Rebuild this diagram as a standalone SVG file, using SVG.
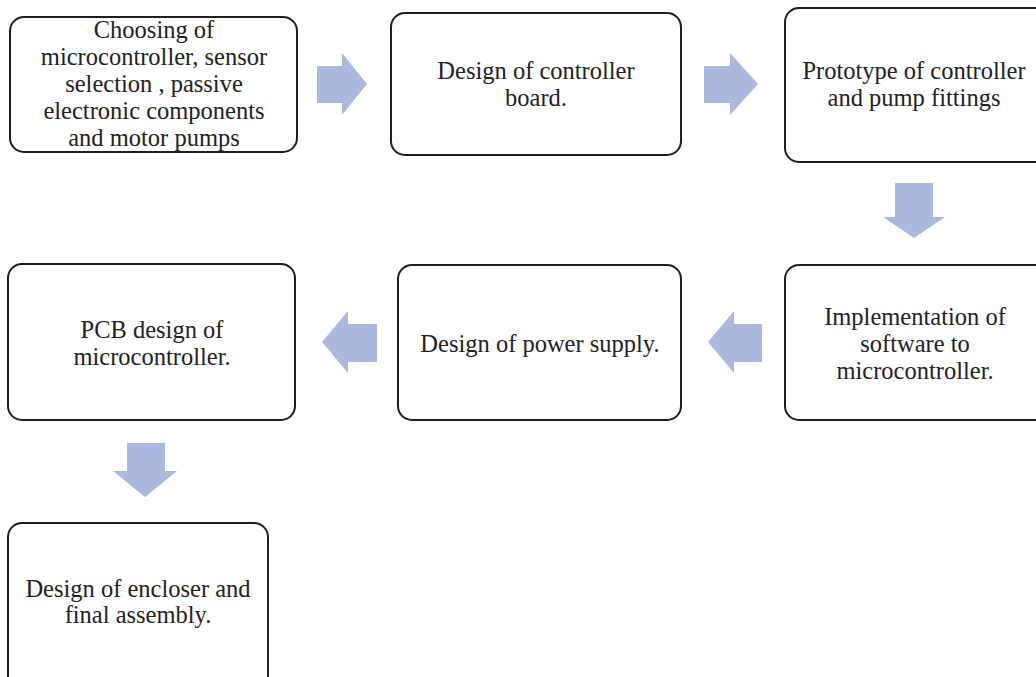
<svg xmlns="http://www.w3.org/2000/svg" width="1036" height="677" viewBox="0 0 1036 677">
<style>
.box{fill:#fff;stroke:#1e1e1e;stroke-width:2}
.t{font-family:'Liberation Serif','DejaVu Serif',serif;font-size:24.5px;fill:#222;text-anchor:middle}
.ar{fill:#abb9df}
</style>
<rect width="1036" height="677" fill="#fff"/>
<g id="connectors">
<polygon class="ar" points="317,66 342,66 342,53 367,84 342,115 342,103 317,103"/>
<polygon class="ar" points="704,66 730,66 730,53 758,84 730,115 730,103 704,103"/>
<polygon class="ar" points="895,183 933,183 933,217 945,217 914,238 883,217 895,217"/>
<polygon class="ar" points="762,324 734,324 734,311 708,342 734,373 734,362 762,362"/>
<polygon class="ar" points="377,324 348,324 348,311 322,342 348,373 348,362 377,362"/>
<polygon class="ar" points="127,443 165,443 165,471 177,471 145,497 113,471 127,471"/>
</g>
<g id="n1">
<rect class="box" x="10" y="17" width="287" height="135" rx="14"/>
<text class="t" x="154" y="38">Choosing of</text>
<text class="t" x="154" y="65">microcontroller, sensor</text>
<text class="t" x="154" y="92">selection , passive</text>
<text class="t" x="154" y="119">electronic components</text>
<text class="t" x="154" y="146">and motor pumps</text>
</g>
<g id="n2">
<rect class="box" x="391" y="13" width="290" height="142" rx="14"/>
<text class="t" x="536" y="79">Design of controller</text>
<text class="t" x="536" y="106">board.</text>
</g>
<g id="n3">
<rect class="box" x="785" y="8" width="264" height="154" rx="14"/>
<text class="t" x="914" y="79">Prototype of controller</text>
<text class="t" x="914" y="106">and pump fittings</text>
</g>
<g id="n4">
<rect class="box" x="8" y="264" width="287" height="156" rx="14"/>
<text class="t" x="152" y="338">PCB design of</text>
<text class="t" x="152" y="365">microcontroller.</text>
</g>
<g id="n5">
<rect class="box" x="398" y="265" width="283" height="155" rx="14"/>
<text class="t" x="540" y="352">Design of power supply.</text>
</g>
<g id="n6">
<rect class="box" x="785" y="265" width="264" height="155" rx="14"/>
<text class="t" x="915" y="325">Implementation of</text>
<text class="t" x="915" y="352">software to</text>
<text class="t" x="915" y="379">microcontroller.</text>
</g>
<g id="n7">
<rect class="box" x="8" y="523" width="260" height="170" rx="14"/>
<text class="t" x="138" y="597">Design of encloser and</text>
<text class="t" x="138" y="623">final assembly.</text>
</g>
</svg>
